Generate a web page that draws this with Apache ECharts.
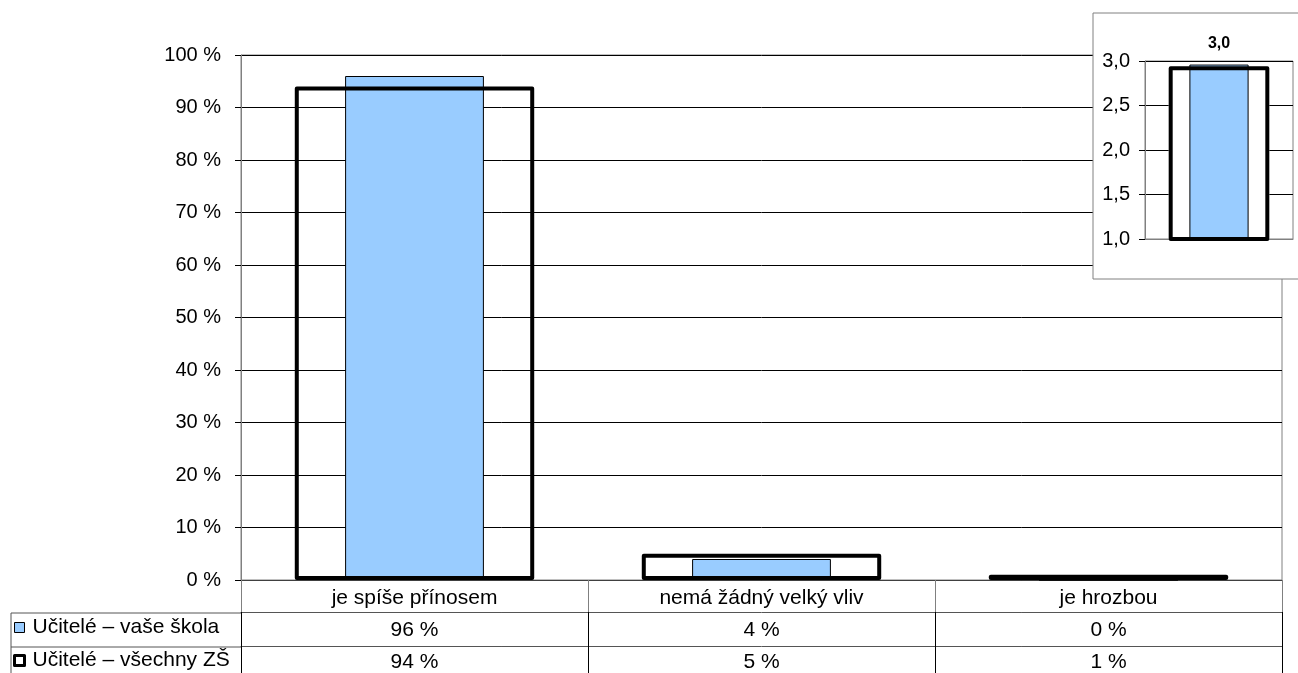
<!DOCTYPE html>
<html>
<head>
<meta charset="utf-8">
<script src="https://cdn.jsdelivr.net/npm/echarts@6/dist/echarts.min.js"></script>
<style>html,body{margin:0;padding:0;background:#fff}#c{width:1298px;height:673px}</style>
</head>
<body>
<div id="c"></div>
<script>
var categories = ['je spíše přínosem', 'nemá žádný velký vliv', 'je hrozbou'];
var seriesNames = ['Učitelé – vaše škola', 'Učitelé – všechny ZŠ'];
var skolaValues = [96, 4, 0];
var vsechnyValues = [94, 5, 1];
var yTicks = [0, 100, 10];
var insetCategory = ['průměr'];
var insetSkola = [2.96];
var insetVsechny = [2.94];
var insetTicks = [1, 3, 0.5];

var FONT = "'Liberation Sans', Arial, sans-serif";
var chart = echarts.init(document.getElementById('c'));
function pct(v) { return v + ' %'; }
function cz(v) { return v.toFixed(1).replace('.', ','); }

var option = {
  animation: false,
  textStyle: { fontFamily: FONT },
  grid: [
    { left: 241, right: 16, top: 55, bottom: 92, show: true, borderColor: '#808080', borderWidth: 1, backgroundColor: 'transparent' },
    { left: 1145, right: 5, top: 61, bottom: 434, show: true, borderColor: '#808080', borderWidth: 1, z: 110 }
  ],
  legend: {
    orient: 'vertical', left: 13, top: 617, padding: 0, itemWidth: 10, itemHeight: 10, itemGap: 12,
    textStyle: { fontFamily: FONT, fontSize: 21, color: '#000', lineHeight: 21, padding: [0, 0, 0, 3] },
    data: [
      { name: seriesNames[0], icon: 'rect', itemStyle: { color: '#99ccff', borderColor: '#000', borderWidth: 1 } },
      { name: seriesNames[1], icon: 'rect', itemStyle: { color: '#fff', borderColor: '#000', borderWidth: 3 } }
    ]
  },
  xAxis: [
    { gridIndex: 0, type: 'category', data: categories, position: 'bottom', offset: 0,
      axisLine: { lineStyle: { color: '#404040', width: 1 } },
      axisTick: { show: true, interval: 0, length: 32, lineStyle: { color: '#808080' } },
      axisLabel: { interval: 0, margin: 8, fontSize: 21, color: '#000', fontFamily: FONT } },
    { gridIndex: 0, type: 'category', data: categories, position: 'bottom', offset: 32,
      axisLine: { lineStyle: { color: '#555', width: 1 } },
      axisTick: { show: true, interval: 0, length: 34, lineStyle: { color: '#000' } },
      axisLabel: { interval: 0, margin: 8, fontSize: 21, color: '#000', fontFamily: FONT,
        formatter: function (v, i) { return pct(skolaValues[i]); } } },
    { gridIndex: 0, type: 'category', data: categories, position: 'bottom', offset: 66,
      axisLine: { lineStyle: { color: '#555', width: 1 } },
      axisTick: { show: true, interval: 0, length: 34, lineStyle: { color: '#000' } },
      axisLabel: { interval: 0, margin: 6, fontSize: 21, color: '#000', fontFamily: FONT,
        formatter: function (v, i) { return pct(vsechnyValues[i]); } } },
    { gridIndex: 1, type: 'category', data: insetCategory, z: 110,
      axisLine: { lineStyle: { color: '#808080' } }, axisTick: { show: false }, axisLabel: { show: false } },
    { gridIndex: 1, type: 'category', data: insetCategory, show: false, z: 110 }
  ],
  yAxis: [
    { gridIndex: 0, type: 'value', min: yTicks[0], max: yTicks[1], interval: yTicks[2],
      axisLine: { show: true, lineStyle: { color: '#808080' } },
      axisTick: { show: true, length: 6, lineStyle: { color: '#000' } },
      splitLine: { lineStyle: { color: '#000', width: 1 } },
      axisLabel: { margin: 20, fontSize: 20, color: '#000', fontFamily: FONT, formatter: pct } },
    { gridIndex: 1, type: 'value', min: insetTicks[0], max: insetTicks[1], interval: insetTicks[2], z: 110,
      axisLine: { show: true, lineStyle: { color: '#808080' } },
      axisTick: { show: true, length: 6, lineStyle: { color: '#000' } },
      splitLine: { lineStyle: { color: '#000', width: 1 } },
      axisLabel: { margin: 15, fontSize: 20, color: '#000', fontFamily: FONT, formatter: cz } }
  ],
  graphic: [
    { type: 'rect', z: 100, shape: { x: 1093, y: 13, width: 215, height: 266 },
      style: { fill: '#fff', stroke: '#808080', lineWidth: 1 } },
    { type: 'line', shape: { x1: 11, y1: 613, x2: 241, y2: 613 }, style: { stroke: '#555', lineWidth: 1 } },
    { type: 'line', shape: { x1: 11, y1: 647, x2: 241, y2: 647 }, style: { stroke: '#555', lineWidth: 1 } },
    { type: 'line', shape: { x1: 11, y1: 613, x2: 11, y2: 673 }, style: { stroke: '#555', lineWidth: 1 } }
  ],
  series: [
    { name: seriesNames[0], type: 'bar', xAxisIndex: 0, yAxisIndex: 0, data: skolaValues, barWidth: '40%', z: 3,
      itemStyle: { color: '#99ccff', borderColor: '#000', borderWidth: 1 } },
    { name: seriesNames[1], type: 'bar', xAxisIndex: 1, yAxisIndex: 0, data: vsechnyValues, barWidth: '69%', z: 4,
      itemStyle: { color: 'transparent', borderColor: '#000', borderWidth: 4, borderJoin: 'round' } },
    { name: 'inset-bg', type: 'bar', xAxisIndex: 4, yAxisIndex: 1, data: insetVsechny, barWidth: '68%', barGap: '-100%', z: 111,
      itemStyle: { color: '#fff', borderWidth: 0 }, silent: true },
    { name: seriesNames[0], type: 'bar', xAxisIndex: 3, yAxisIndex: 1, data: insetSkola, barWidth: '40%', z: 112,
      itemStyle: { color: '#99ccff', borderColor: '#000', borderWidth: 1 },
      label: { show: true, position: 'top', distance: 13, fontSize: 16, fontWeight: 'bold', color: '#000', fontFamily: FONT,
        formatter: function (p) { return cz(p.value); } } },
    { name: seriesNames[1], type: 'bar', xAxisIndex: 4, yAxisIndex: 1, data: insetVsechny, barWidth: '68%', barGap: '-100%', z: 113,
      itemStyle: { color: 'transparent', borderColor: '#000', borderWidth: 4, borderJoin: 'round' } }
  ]
};
chart.setOption(option);
</script>
</body>
</html>
